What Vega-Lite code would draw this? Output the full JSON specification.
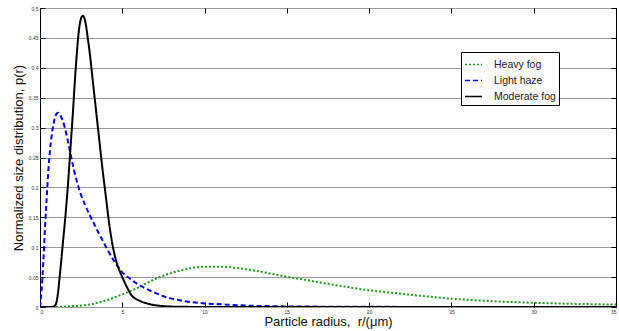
{
  "$schema": "https://vega.github.io/schema/vega-lite/v6.json",
  "width": 576,
  "height": 299,
  "autosize": {"type": "none"},
  "padding": {"left": 40, "top": 8, "right": 3, "bottom": 24},
  "background": "white",
  "config": {
    "view": {"stroke": "black", "strokeWidth": 1},
    "font": "Liberation Sans",
    "axis": {"domain": false, "tickColor": "black", "labelColor": "#333", "titleColor": "#111", "titleFontWeight": "normal"}
  },
  "data": {"values": [
    {"r":0,"p":0,"s":"Heavy fog"},{"r":1,"p":0.0002,"s":"Heavy fog"},{"r":2,"p":0.0015,"s":"Heavy fog"},{"r":3,"p":0.004,"s":"Heavy fog"},{"r":4,"p":0.011,"s":"Heavy fog"},{"r":5,"p":0.021,"s":"Heavy fog"},{"r":6,"p":0.033,"s":"Heavy fog"},{"r":7,"p":0.047,"s":"Heavy fog"},{"r":8,"p":0.057,"s":"Heavy fog"},{"r":9,"p":0.064,"s":"Heavy fog"},{"r":10,"p":0.0675,"s":"Heavy fog"},{"r":11,"p":0.0675,"s":"Heavy fog"},{"r":12,"p":0.065,"s":"Heavy fog"},{"r":13,"p":0.061,"s":"Heavy fog"},{"r":14,"p":0.056,"s":"Heavy fog"},{"r":15,"p":0.0505,"s":"Heavy fog"},{"r":16,"p":0.046,"s":"Heavy fog"},{"r":17,"p":0.041,"s":"Heavy fog"},{"r":18,"p":0.0365,"s":"Heavy fog"},{"r":19,"p":0.032,"s":"Heavy fog"},{"r":20,"p":0.028,"s":"Heavy fog"},{"r":21,"p":0.025,"s":"Heavy fog"},{"r":22,"p":0.022,"s":"Heavy fog"},{"r":23,"p":0.019,"s":"Heavy fog"},{"r":24,"p":0.0165,"s":"Heavy fog"},{"r":25,"p":0.014,"s":"Heavy fog"},{"r":26,"p":0.012,"s":"Heavy fog"},{"r":27,"p":0.0105,"s":"Heavy fog"},{"r":28,"p":0.009,"s":"Heavy fog"},{"r":29,"p":0.008,"s":"Heavy fog"},{"r":30,"p":0.007,"s":"Heavy fog"},{"r":31,"p":0.0062,"s":"Heavy fog"},{"r":32,"p":0.0055,"s":"Heavy fog"},{"r":33,"p":0.005,"s":"Heavy fog"},{"r":34,"p":0.0045,"s":"Heavy fog"},{"r":35,"p":0.004,"s":"Heavy fog"},
    {"r":0,"p":0,"s":"Light haze"},{"r":0.1,"p":0.03,"s":"Light haze"},{"r":0.2,"p":0.075,"s":"Light haze"},{"r":0.3,"p":0.13,"s":"Light haze"},{"r":0.4,"p":0.18,"s":"Light haze"},{"r":0.5,"p":0.225,"s":"Light haze"},{"r":0.6,"p":0.26,"s":"Light haze"},{"r":0.7,"p":0.285,"s":"Light haze"},{"r":0.8,"p":0.303,"s":"Light haze"},{"r":0.9,"p":0.316,"s":"Light haze"},{"r":1.0,"p":0.323,"s":"Light haze"},{"r":1.1,"p":0.325,"s":"Light haze"},{"r":1.2,"p":0.322,"s":"Light haze"},{"r":1.35,"p":0.314,"s":"Light haze"},{"r":1.5,"p":0.301,"s":"Light haze"},{"r":1.75,"p":0.27,"s":"Light haze"},{"r":2.0,"p":0.237,"s":"Light haze"},{"r":2.25,"p":0.209,"s":"Light haze"},{"r":2.5,"p":0.187,"s":"Light haze"},{"r":2.75,"p":0.17,"s":"Light haze"},{"r":3.0,"p":0.155,"s":"Light haze"},{"r":3.25,"p":0.141,"s":"Light haze"},{"r":3.5,"p":0.127,"s":"Light haze"},{"r":3.75,"p":0.114,"s":"Light haze"},{"r":4.0,"p":0.101,"s":"Light haze"},{"r":4.5,"p":0.077,"s":"Light haze"},{"r":5.0,"p":0.058,"s":"Light haze"},{"r":5.5,"p":0.047,"s":"Light haze"},{"r":6.0,"p":0.037,"s":"Light haze"},{"r":6.5,"p":0.03,"s":"Light haze"},{"r":7.0,"p":0.0235,"s":"Light haze"},{"r":7.5,"p":0.018,"s":"Light haze"},{"r":8,"p":0.014,"s":"Light haze"},{"r":9,"p":0.0088,"s":"Light haze"},{"r":10,"p":0.006,"s":"Light haze"},{"r":11,"p":0.0045,"s":"Light haze"},{"r":12,"p":0.003,"s":"Light haze"},{"r":13,"p":0.002,"s":"Light haze"},{"r":14,"p":0.0014,"s":"Light haze"},{"r":15,"p":0.001,"s":"Light haze"},{"r":17,"p":0.0006,"s":"Light haze"},{"r":20,"p":0.0003,"s":"Light haze"},{"r":25,"p":0.0001,"s":"Light haze"},{"r":35,"p":0,"s":"Light haze"},
    {"r":0,"p":0,"s":"Moderate fog"},{"r":0.5,"p":0,"s":"Moderate fog"},{"r":0.8,"p":0.0005,"s":"Moderate fog"},{"r":0.9,"p":0.002,"s":"Moderate fog"},{"r":1.0,"p":0.008,"s":"Moderate fog"},{"r":1.1,"p":0.025,"s":"Moderate fog"},{"r":1.2,"p":0.052,"s":"Moderate fog"},{"r":1.3,"p":0.08,"s":"Moderate fog"},{"r":1.4,"p":0.11,"s":"Moderate fog"},{"r":1.5,"p":0.138,"s":"Moderate fog"},{"r":1.6,"p":0.17,"s":"Moderate fog"},{"r":1.7,"p":0.205,"s":"Moderate fog"},{"r":1.8,"p":0.245,"s":"Moderate fog"},{"r":1.9,"p":0.285,"s":"Moderate fog"},{"r":2.0,"p":0.325,"s":"Moderate fog"},{"r":2.1,"p":0.37,"s":"Moderate fog"},{"r":2.2,"p":0.41,"s":"Moderate fog"},{"r":2.3,"p":0.445,"s":"Moderate fog"},{"r":2.4,"p":0.47,"s":"Moderate fog"},{"r":2.5,"p":0.483,"s":"Moderate fog"},{"r":2.6,"p":0.487,"s":"Moderate fog"},{"r":2.7,"p":0.483,"s":"Moderate fog"},{"r":2.8,"p":0.47,"s":"Moderate fog"},{"r":2.9,"p":0.45,"s":"Moderate fog"},{"r":3.0,"p":0.43,"s":"Moderate fog"},{"r":3.2,"p":0.38,"s":"Moderate fog"},{"r":3.4,"p":0.33,"s":"Moderate fog"},{"r":3.6,"p":0.28,"s":"Moderate fog"},{"r":3.8,"p":0.23,"s":"Moderate fog"},{"r":4.0,"p":0.185,"s":"Moderate fog"},{"r":4.2,"p":0.14,"s":"Moderate fog"},{"r":4.4,"p":0.105,"s":"Moderate fog"},{"r":4.6,"p":0.08,"s":"Moderate fog"},{"r":4.8,"p":0.063,"s":"Moderate fog"},{"r":5.0,"p":0.05,"s":"Moderate fog"},{"r":5.25,"p":0.035,"s":"Moderate fog"},{"r":5.5,"p":0.022,"s":"Moderate fog"},{"r":6.0,"p":0.011,"s":"Moderate fog"},{"r":6.5,"p":0.006,"s":"Moderate fog"},{"r":7.0,"p":0.003,"s":"Moderate fog"},{"r":7.5,"p":0.0015,"s":"Moderate fog"},{"r":8,"p":0.0007,"s":"Moderate fog"},{"r":9,"p":0.0002,"s":"Moderate fog"},{"r":10,"p":0,"s":"Moderate fog"},{"r":35,"p":0,"s":"Moderate fog"}
  ]},
  "layer": [
    {
      "mark": {"type": "line", "interpolate": "monotone", "strokeWidth": 2, "clip": true},
      "encoding": {
        "x": {"field": "r", "type": "quantitative", "scale": {"domain": [0, 35], "nice": false, "zero": false},
          "axis": {"orient": "bottom", "values": [0,5,10,15,20,25,30,35], "tickSize": -5, "labelFontSize": 5, "labelPadding": 7, "grid": false,
            "title": "Particle radius,\u00a0\u00a0r/(μm)", "titleFontSize": 13, "titlePadding": 1}},
        "y": {"field": "p", "type": "quantitative", "scale": {"domain": [0, 0.5], "nice": false},
          "axis": {"orient": "left", "values": [0,0.05,0.1,0.15,0.2,0.25,0.3,0.35,0.4,0.45,0.5], "format": ".2~f", "tickSize": -5, "labelFontSize": 5, "labelPadding": 7,
            "grid": true, "gridColor": "#999", "gridWidth": 1, "gridOpacity": 1,
            "title": "Normalized size distribution, p(r)", "titleFontSize": 13, "titlePadding": 3}},
        "color": {"field": "s", "type": "nominal",
          "scale": {"domain": ["Heavy fog", "Light haze", "Moderate fog"], "range": ["#1f9a1f", "#0000ff", "#000000"]},
          "legend": {"title": null, "orient": "none", "legendX": 421, "legendY": 44,
            "fillColor": "white", "strokeColor": "black", "padding": 3, "symbolType": "stroke", "symbolSize": 289,
            "symbolStrokeWidth": 1.5, "labelFontSize": 10.5, "labelColor": "#222", "rowPadding": 1, "labelOffset": 11}},
        "strokeDash": {"field": "s", "type": "nominal",
          "scale": {"domain": ["Heavy fog", "Light haze", "Moderate fog"], "range": [[2,2],[5,3],[1,0]]},
          "legend": {"title": null, "orient": "none", "legendX": 421, "legendY": 44,
            "fillColor": "white", "strokeColor": "black", "padding": 3, "symbolType": "stroke", "symbolSize": 289,
            "symbolStrokeWidth": 1.5, "labelFontSize": 10.5, "labelColor": "#222", "rowPadding": 1, "labelOffset": 11}}
      }
    },
    {
      "mark": {"type": "line", "strokeOpacity": 0},
      "encoding": {
        "x": {"field": "r", "type": "quantitative", "axis": {"orient": "top", "values": [0,5,10,15,20,25,30,35], "tickSize": -5, "labels": false, "title": null, "grid": false}},
        "y": {"field": "p", "type": "quantitative", "axis": {"orient": "right", "values": [0,0.05,0.1,0.15,0.2,0.25,0.3,0.35,0.4,0.45,0.5], "tickSize": -5, "labels": false, "title": null, "grid": false}}
      }
    }
  ],
  "resolve": {"axis": {"x": "independent", "y": "independent"}}
}
